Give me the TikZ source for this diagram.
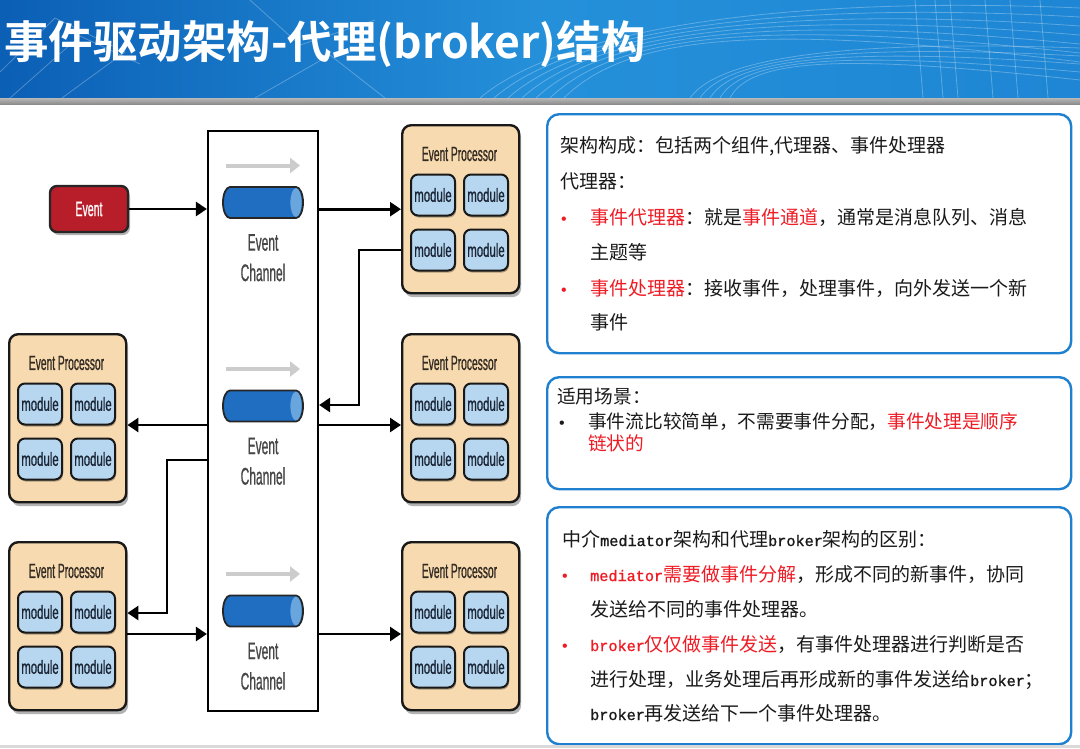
\documentclass[tikz,border=0pt]{standalone}
\usepackage{fontspec}
\usetikzlibrary{arrows.meta,shadows,calc}
\setmainfont{Liberation Sans}
\newfontfamily\cjk{Noto Sans CJK SC}
\newfontfamily\cjkbold{Noto Sans CJK SC Bold}
\newfontfamily\condA[FakeStretch=0.5,FakeBold=0.7]{Liberation Sans}
\newfontfamily\condB[FakeStretch=0.6,FakeBold=0.8]{Liberation Sans}
\newfontfamily\lmono[Scale=0.8,FakeBold=1.2]{Liberation Mono}
\definecolor{eptan}{HTML}{F7DAB0}
\definecolor{modblue}{HTML}{B7D7F0}
\definecolor{evred}{HTML}{B81E2A}
\definecolor{pipeblue}{HTML}{1F6EC2}
\definecolor{pipecap}{HTML}{6AA6DE}
\definecolor{boxblue}{HTML}{2080D0}
\definecolor{txtred}{HTML}{EE1C25}
\definecolor{txtblack}{HTML}{1A1A1A}
\definecolor{hdrA}{HTML}{0B5FB5}
\definecolor{hdrM}{HTML}{2590DA}
\definecolor{hdrB}{HTML}{1E86D4}
\definecolor{eptxt}{HTML}{332B22}
\definecolor{modtxt}{HTML}{1A2535}
\tikzset{
  conn/.style={line width=2.6pt, draw=black, -{Triangle[length=11pt,width=14pt]}},
  grayarr/.style={line width=4pt, draw=black!20, -{Triangle[length=10pt,width=15pt]}},
  ep/.style={draw=black!90, line width=2.4pt, fill=eptan, rounded corners=9pt,
    minimum width=117pt, minimum height=168pt, anchor=north west, inner sep=0pt,
    drop shadow={shadow xshift=2pt, shadow yshift=-4pt, opacity=0.3, fill=black}},
  eptitle/.style={inner sep=0pt, text=eptxt, font=\condA\fontsize{20.5}{20.5}\selectfont},
  modbox/.style={draw=black!90, line width=2pt, fill=modblue, rounded corners=7pt,
    minimum width=44pt, minimum height=41pt, inner sep=0pt, text=modtxt,
    font=\condB\fontsize{19}{19}\selectfont,
    drop shadow={shadow xshift=1pt, shadow yshift=-2pt, opacity=0.3, fill=black}},
  chanbox/.style={draw=black, line width=2.2pt, fill=white, minimum width=110pt,
    minimum height=580pt, inner sep=0pt},
  chantext/.style={inner sep=0pt, text=black!72, font=\condA\fontsize{24}{24}\selectfont},
  evnode/.style={draw=black!85, line width=2.4pt, fill=evred, rounded corners=7pt,
    minimum width=78pt, minimum height=46pt, inner sep=0pt, text=white,
    font=\condA\fontsize{21}{21}\selectfont,
    drop shadow={shadow xshift=2pt, shadow yshift=-3pt, opacity=0.3, fill=black}},
  tbox/.style={draw=boxblue, line width=2.4pt, rounded corners=12pt, fill=white,
    anchor=north west, inner sep=0pt, minimum width=524pt},
  tl/.style={anchor=base west, inner sep=0pt, text=txtblack, font=\cjk\fontsize{19}{19}\selectfont},
  tls/.style={anchor=base west, inner sep=0pt, text=txtblack, font=\cjk\fontsize{18.7}{18.7}\selectfont},
  bul/.style={anchor=base, inner sep=0pt, font=\fontsize{16}{16}\selectfont},
}
\newcommand\eproc[3]{%
  \node[ep] (#1) at (#2,#3) {};
  \node[eptitle] (#1t) at (#2+58.5,#3+30) {Event Processor};
  \node[modbox] (#1a) at (#2+32,#3+71) {module};
  \node[modbox] (#1b) at (#2+85,#3+71) {module};
  \node[modbox] (#1c) at (#2+32,#3+126) {module};
  \node[modbox] (#1d) at (#2+85,#3+126) {module};
}
\newcommand\chanpart[2]{%
  \draw[grayarr] (226,#2-37) -- (300,#2-37);
  \filldraw[fill=pipeblue, draw=black!85, line width=1.8pt]
    (230,#2-15.5) -- (296,#2-15.5) arc[start angle=-90, end angle=90, x radius=7, y radius=15.5]
    -- (230,#2+15.5) arc[start angle=90, end angle=270, x radius=7, y radius=15.5] -- cycle;
  \fill[pipecap] (296,#2) ellipse[x radius=5.6, y radius=14.4];
  \node[chantext] (#1e) at (263,#2+40) {Event};
  \node[chantext] (#1c) at (263,#2+70) {Channel};
}
\begin{document}
\begin{tikzpicture}[x=1pt,y=-1pt]
\useasboundingbox (0,0) rectangle (1080,748);
\fill[white] (0,0) rectangle (1080,748);
% header
\shade[left color=hdrA, right color=hdrB, middle color=hdrM] (0,0) rectangle (1080,98);
\begin{scope}[draw=white, opacity=0.28, line width=0.8pt]
  \foreach \i in {0,...,6}{
    \draw (480+\i*14,98) .. controls (560+\i*12,30) and (780,-5+\i*5) .. (1080,8+\i*9);
  }
  \foreach \i in {0,...,4}{
    \draw (690+\i*10,98) .. controls (720+\i*8,55) and (860,40+\i*4) .. (1080,48+\i*8);
  }
  \foreach \x in {915,935,950,985,1010,1040}{
    \draw (\x,0) -- (\x+8,98);
  }
  \draw (0,72) -- (55,18) -- (125,52) -- (62,98);
  \draw (10,98) -- (80,36) -- (140,64);
  \draw (250,0) -- (300,45) -- (375,20);
  \draw (255,98) -- (330,55) -- (385,98);
\end{scope}
\shade[top color=black!28, bottom color=black!45] (0,98) rectangle (1080,104);
\node[anchor=base west, inner sep=0pt, text=white, font=\cjkbold\fontsize{44.5}{44.5}\selectfont] (title) at (4,58) {事件驱动架构-代理(broker)结构};
% channel
\node[chanbox] (chan) at (263,421) {};
\chanpart{p1}{202.5}
\chanpart{p2}{406}
\chanpart{p3}{611}
% event
\node[evnode] (event) at (89,209) {Event};
% processors
\eproc{epa}{401}{124}
\eproc{epb}{401}{333}
\eproc{epc}{401}{541}
\eproc{epd}{8}{333}
\eproc{epe}{8}{541}
% connectors
\draw[conn] (event.east) -- (chan.west |- event.east);
\draw[conn] (chan.east |- epa.west) -- (epa.west);
\coordinate (k1) at (359,405);
\draw[conn] (epa.west |- epac) -| (k1) -- (chan.east |- k1);
\coordinate (k2) at (0,425);
\draw[conn] (chan.east |- k2) -- (epb.west |- k2);
\draw[conn] (chan.west |- k2) -- (epd.east |- k2);
\coordinate (k3) at (167,460);
\coordinate (k4) at (167,613);
\draw[conn] (chan.west |- k3) -- (k3) -- (k4) -- (epe.east |- k4);
\coordinate (k5) at (0,634);
\draw[conn] (epe.east |- k5) -- (chan.west |- k5);
\draw[conn] (chan.east |- k5) -- (epc.west |- k5);
% text box 1
\node[tbox, minimum height=239pt] (b1) at (546,113) {};
\node[tl] (b1l1) at (560,152) {架构构成：包括两个组件,代理器、事件处理器};
\node[tl] (b1l2) at (560,188) {代理器：};
\node[bul, text=txtred] (b1u1) at (564,224) {•};
\node[tl] (b1l3) at (590,224) {{\color{txtred}事件代理器}：就是{\color{txtred}事件通道}，通常是消息队列、消息};
\node[tl] (b1l4) at (590,259) {主题等};
\node[bul, text=txtred] (b1u2) at (564,295) {•};
\node[tl] (b1l5) at (590,295) {{\color{txtred}事件处理器}：接收事件，处理事件，向外发送一个新};
\node[tl] (b1l6) at (590,329) {事件};
% text box 2
\node[tbox, minimum height=112pt] (b2) at (546,376) {};
\node[tls] (b2l1) at (557,403) {适用场景：};
\node[bul, text=txtblack] (b2u1) at (562,428) {•};
\node[tls] (b2l2) at (588,428) {事件流比较简单，不需要事件分配，{\color{txtred}事件处理是顺序}};
\node[tls, text=txtred] (b2l3) at (588,450) {链状的};
% text box 3
\node[tbox, minimum height=237pt] (b3) at (546,506) {};
\node[tl] (b3l1) at (562,546) {中介{\lmono mediator}架构和代理{\lmono broker}架构的区别：};
\node[bul, text=txtred] (b3u1) at (565,581) {•};
\node[tl] (b3l2) at (590,581) {{\color{txtred}{\lmono mediator}需要做事件分解}，形成不同的新事件，协同};
\node[tl] (b3l3) at (590,616) {发送给不同的事件处理器。};
\node[bul, text=txtred] (b3u2) at (565,651) {•};
\node[tl] (b3l4) at (590,651) {{\color{txtred}{\lmono broker}仅仅做事件发送}，有事件处理器进行判断是否};
\node[tl] (b3l5) at (590,686) {进行处理，业务处理后再形成新的事件发送给{\lmono broker}；};
\node[tl] (b3l6) at (590,720) {{\lmono broker}再发送给下一个事件处理器。};
% bottom strip
\fill[black!15] (0,745) rectangle (1080,748);
\end{tikzpicture}
\end{document}
